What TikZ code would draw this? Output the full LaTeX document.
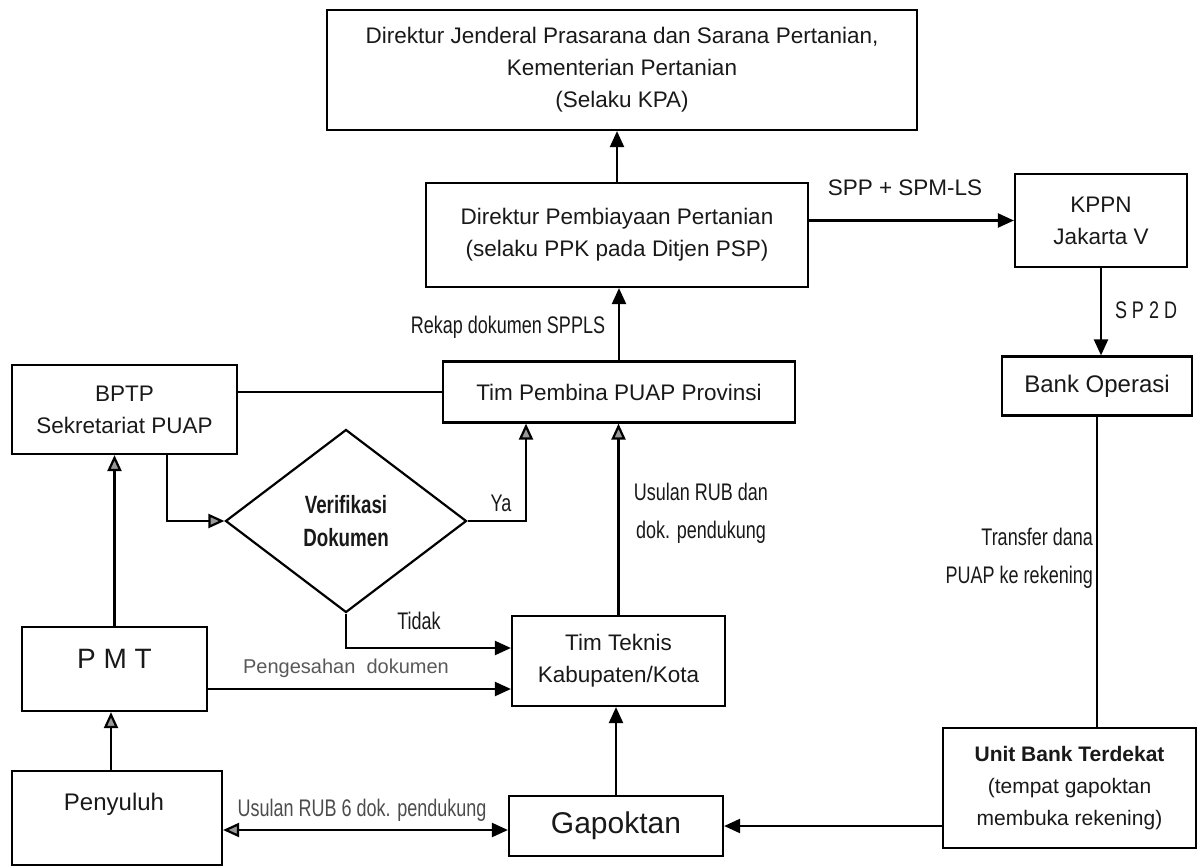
\documentclass[tikz,border=0pt]{standalone}
\usepackage{fontspec}
\setmainfont{Liberation Sans}
\newfontfamily\condf[FakeStretch=0.75]{Liberation Sans}
\usetikzlibrary{arrows.meta,shapes.geometric}
\begin{document}
\begin{tikzpicture}[x=1pt,y=-1pt,
  box/.style={draw, line width=2.2pt, inner sep=0pt, align=center, text=black!90, font=\fontsize{22.5}{32}\selectfont},
  lab/.style={inner sep=0pt, align=center, text=black!90, font=\condf\fontsize{24}{38}\selectfont},
  arr/.style={line width=2.2pt, -{Triangle[width=14pt,length=16pt]}},
  garr/.style={line width=2.2pt, -{Triangle[width=14pt,length=16pt,fill=black!40]}},
  ln/.style={line width=2.2pt}]
\useasboundingbox (0,0) rectangle (1199,867);
% boxes
\node[box, minimum width=590pt, minimum height=120pt] (top) at (622,70)
  {Direktur Jenderal Prasarana dan Sarana Pertanian,\\Kementerian Pertanian\\(Selaku KPA)};
\node[box, minimum width=382pt, minimum height=104pt] (dp) at (617,235)
  {Direktur Pembiayaan Pertanian\\(selaku PPK pada Ditjen PSP)};
\node[box, minimum width=172pt, minimum height=93pt] (kppn) at (1101,220.5)
  {KPPN\\Jakarta V};
\node[box, minimum width=190pt, minimum height=59pt, font=\fontsize{24}{32}\selectfont] (bank) at (1097,386)
  {Bank Operasi};
\node[box, minimum width=352pt, minimum height=61pt] (tpp) at (619,392)
  {Tim Pembina PUAP Provinsi};
\node[box, minimum width=225pt, minimum height=89pt] (bptp) at (124.5,409.5)
  {BPTP\\Sekretariat PUAP};
\node[draw, line width=2.2pt, diamond, inner sep=0pt, minimum width=241pt, minimum height=183pt,
  align=center, text=black!90, font=\condf\bfseries\fontsize{25}{33}\selectfont] (dia) at (346,521)
  {Verifikasi\\Dokumen};
\node[box, minimum width=185pt, minimum height=84pt] (pmt) at (114.5,669) {};
\node[inner sep=0pt, text=black!90, font=\fontsize{28}{32}\selectfont] (pmtt) at (114.5,659) {P M T};
\node[box, minimum width=213pt, minimum height=90pt] (ttk) at (618.5,661)
  {Tim Teknis\\Kabupaten/Kota};
\node[box, minimum width=210pt, minimum height=94pt] (peny) at (117,818) {};
\node[inner sep=0pt, text=black!90, font=\fontsize{24}{32}\selectfont] (penyt) at (114,804) {Penyuluh};
\node[box, minimum width=214pt, minimum height=60pt, font=\fontsize{30}{32}\selectfont] (gap) at (616,826)
  {Gapoktan};
\node[box, minimum width=253pt, minimum height=120pt, font=\fontsize{21}{32}\selectfont] (ub) at (1069.5,788)
  {\textbf{Unit Bank Terdekat}\\(tempat gapoktan\\membuka rekening)};
% labels
\node[inner sep=0pt, text=black!90, font=\fontsize{22.5}{30}\selectfont] (lspp) at (905,188) {SPP + SPM-LS};
\node[lab] (lsp2d) at (1146,310) {S P 2 D};
\node[lab] (lrekap) at (508,327) {Rekap dokumen SPPLS};
\node[lab, align=right, anchor=east] (ltrans) at (1093,558) {Transfer dana\\PUAP ke rekening};
\node[lab] (lusul) at (701,513) {Usulan RUB dan\\dok. pendukung};
\node[lab] (lya) at (501,503) {Ya};
\node[lab] (ltidak) at (419,621) {Tidak};
\node[inner sep=0pt, text=black!65, font=\fontsize{20}{30}\selectfont] (lpeng) at (346,668) {Pengesahan\ \ dokumen};
\node[lab, text=black!70] (lusul2) at (362,810) {Usulan RUB 6 dok. pendukung};
% connectors
\draw[arr] (dp.north) -- (dp.north |- top.south);
\draw[arr] (kppn.west -| dp.east) -- (kppn.west);
\draw[arr] (kppn.south) -- (kppn.south |- bank.north);
\draw[ln] (bank.south) -- (bank.south |- ub.north);
\draw[arr] (gap.east -| ub.west) -- (gap.east);
\draw[arr] (gap.north) -- (gap.north |- ttk.south);
\draw[garr] (ttk.north) -- (ttk.north |- tpp.south);
\draw[arr] (tpp.north) -- (tpp.north |- dp.south);
\draw[ln] (tpp.west -| bptp.east) -- (tpp.west);
\draw[garr] ([xshift=42.5pt]bptp.south) |- (dia.west);
\draw[garr] (dia.east) -| ([xshift=-93pt]tpp.south);
\draw[arr] (dia.south) |- ([yshift=13pt]ttk.west);
\draw[arr] ([yshift=-20pt]pmt.east) -- ([yshift=-20pt]pmt.east -| ttk.west);
\draw[garr] (pmt.north) -- (pmt.north |- bptp.south);
\draw[garr] ([xshift=-6pt]peny.north) -- ([xshift=-6pt]peny.north |- pmt.south);
\coordinate (gl) at ([yshift=-4pt]gap.west);
\draw[line width=2.2pt, {Triangle[width=14pt,length=16pt,fill=black!40]}-{Triangle[width=14pt,length=16pt]}] (peny.east |- gl) -- (gl);
\end{tikzpicture}
\end{document}
